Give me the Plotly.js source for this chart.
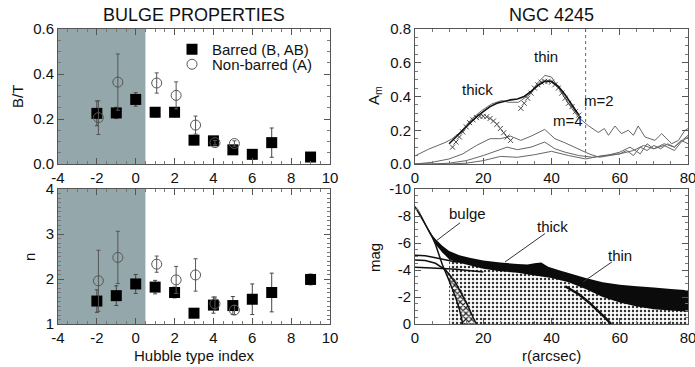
<!DOCTYPE html>
<html><head><meta charset="utf-8">
<script src="https://cdn.plot.ly/plotly-3.0.1.min.js"></script>
<style>html,body{margin:0;padding:0;background:#fff}#chart{width:695px;height:367px}</style>
</head><body><div id="chart"></div>
<script>
// ---------- Left panels: bulge properties vs Hubble type ----------
const SHADE_X = [-4, 0.5];
const BT_bar_x   = [-2, -1, 0, 1, 2, 3, 4, 5, 6, 7, 9];
const BT_bar_y   = [0.225, 0.227, 0.287, 0.23, 0.23, 0.106, 0.103, 0.063, 0.043, 0.095, 0.031];
const BT_bar_err = [0.055, 0.025, 0.03, 0.02, 0.02, 0.02, 0.015, 0.01, 0.02, 0.065, 0.02];
const BT_non_x   = [-1.92, -0.92, 1.08, 2.08, 3.08, 4.08, 5.08];
const BT_non_y   = [0.206, 0.364, 0.36, 0.305, 0.173, 0.095, 0.091];
const BT_non_err = [0.075, 0.125, 0.045, 0.06, 0.04, 0.01, 0.012];

const N_bar_x   = [-2, -1, 0, 1, 2, 3, 4, 5, 6, 7, 9];
const N_bar_y   = [1.51, 1.63, 1.89, 1.82, 1.70, 1.24, 1.42, 1.41, 1.55, 1.70, 1.99];
const N_bar_err = [0.25, 0.22, 0.21, 0.15, 0.12, 0.06, 0.18, 0.2, 0.34, 0.43, 0.12];
const N_non_x   = [-1.92, -0.92, 1.08, 2.08, 3.08, 4.08, 5.08];
const N_non_y   = [1.96, 2.48, 2.33, 1.98, 2.09, 1.45, 1.31];
const N_non_err = [0.68, 0.58, 0.18, 0.3, 0.36, 0.15, 0.1];

const HUB_ticks = [-4, -2, 0, 2, 4, 6, 8, 10];
const HUB_text  = ["-4", "-2", "0", "2", "4", "6", "8", "10"];

// ---------- Top right: A_m vs r ----------
const M2_r = [0, 4, 8.8, 10.7, 13.2, 16.6, 19.5, 22.5, 25.4, 27.3, 30.3, 33.2, 36.1, 38.1, 40, 42, 45, 47.9, 50.8, 53.7, 55.5, 56.7, 58.6, 60.5, 62.5, 64, 65.4, 67.4, 70.3, 72.3, 75.2, 77.2, 79.1, 80];
const M2_A = [0.048, 0.088, 0.127, 0.147, 0.187, 0.267, 0.316, 0.356, 0.376, 0.366, 0.366, 0.406, 0.485, 0.525, 0.515, 0.455, 0.356, 0.276, 0.227, 0.187, 0.21, 0.17, 0.225, 0.18, 0.2, 0.17, 0.225, 0.16, 0.14, 0.18, 0.12, 0.14, 0.2, 0.21];
const MOD_r = [10, 12, 14, 16, 18, 20, 22, 24, 26, 28, 30, 32, 34, 36, 38, 40, 42, 44, 46, 48];
const MOD_A = [0.12, 0.16, 0.2, 0.24, 0.28, 0.31, 0.34, 0.36, 0.37, 0.38, 0.385, 0.4, 0.43, 0.465, 0.49, 0.49, 0.46, 0.41, 0.35, 0.29];
const THK_r = [11, 12, 13, 14, 15, 16, 17, 18, 19, 20, 21, 22, 23, 24, 25, 26, 27, 28];
const THK_A = [0.1, 0.13, 0.16, 0.19, 0.22, 0.245, 0.262, 0.275, 0.282, 0.283, 0.28, 0.27, 0.255, 0.235, 0.21, 0.185, 0.16, 0.14];
const THN_r = [31, 32, 33, 34, 35, 36, 37, 38, 39, 40, 41, 42, 43, 44, 45, 46, 47, 48];
const THN_A = [0.33, 0.36, 0.39, 0.42, 0.45, 0.47, 0.485, 0.49, 0.49, 0.485, 0.47, 0.45, 0.42, 0.39, 0.36, 0.34, 0.31, 0.29];
const M4a_r = [0, 5, 10, 14, 18, 22, 25, 28, 31, 34, 38, 41, 44, 48, 51, 54, 57, 60, 62, 64, 66, 68, 70, 72, 74, 76, 78, 80];
const M4a_A = [0.0, 0.01, 0.03, 0.06, 0.11, 0.15, 0.15, 0.165, 0.14, 0.165, 0.205, 0.15, 0.125, 0.09, 0.06, 0.04, 0.05, 0.06, 0.08, 0.05, 0.1, 0.08, 0.11, 0.09, 0.12, 0.1, 0.14, 0.12];
const M4b_r = [0, 5, 10, 15, 20, 24, 27, 30, 34, 38, 41, 44, 48, 52, 56, 60, 63, 66, 68, 70, 73, 76, 78, 80];
const M4b_A = [0, 0, 0.005, 0.02, 0.05, 0.08, 0.1, 0.085, 0.1, 0.13, 0.09, 0.07, 0.05, 0.04, 0.05, 0.07, 0.1, 0.06, 0.12, 0.09, 0.11, 0.08, 0.13, 0.16];
const M4c_r = [0, 10, 15, 20, 25, 30, 35, 40, 45, 50, 55, 60, 64, 67, 70, 73, 76, 80];
const M4c_A = [0, 0, 0.005, 0.02, 0.045, 0.04, 0.055, 0.075, 0.05, 0.03, 0.05, 0.06, 0.08, 0.11, 0.09, 0.12, 0.1, 0.17];
const CORO_R = 50;

// ---------- Bottom right: mag vs r ----------
const BUL_r = [0, 2, 4, 5, 6, 8, 10, 11, 12, 13, 14];
const BUL_m = [-8.7, -7.8, -7.0, -6.5, -5.9, -4.4, -3.2, -2.6, -1.9, -1.1, 0];
const TDA_r = [0, 3, 6, 9, 12];
const TDA_m = [-5.1, -5.05, -4.9, -4.75, -4.6];
const TDB_r = [0, 3, 6, 9, 12, 15, 17, 18];
const TDB_m = [-4.75, -4.7, -4.5, -4.0, -3.0, -1.6, -0.5, 0];
const THL_r = [0, 4, 8, 12, 16, 20];
const THL_m = [-4.2, -4.18, -4.12, -4.05, -3.95, -3.85];
const BAND_up_r = [0.5, 2, 3, 4, 5, 6, 8, 10, 13, 16, 20, 25, 30, 33, 35, 37, 39, 42, 46, 50, 55, 60, 65, 70, 75, 80];
const BAND_up_m = [-8.7, -8.0, -7.5, -7.0, -6.6, -6.3, -5.8, -5.4, -5.1, -4.9, -4.7, -4.55, -4.45, -4.4, -4.5, -4.55, -4.25, -4.0, -3.7, -3.4, -3.1, -2.9, -2.8, -2.7, -2.6, -2.5];
const BAND_lo_r = [80, 75, 70, 65, 60, 55, 50, 45, 40, 35, 30, 25, 20, 15, 12, 10, 8, 6, 4, 2];
const BAND_lo_m = [-0.9, -1.0, -1.1, -1.3, -1.6, -2.0, -2.6, -3.1, -3.4, -3.6, -3.8, -3.9, -4.1, -4.4, -4.6, -4.8, -5.3, -5.9, -6.8, -7.8];
const DOT_r = [10, 14, 18, 22, 26, 30, 34, 38, 42, 46, 50, 55, 60, 65, 70, 75, 80];
const DOT_m = [-4.9, -4.6, -4.3, -4.15, -4.0, -3.9, -3.75, -3.55, -3.35, -3.0, -2.7, -2.1, -1.7, -1.4, -1.2, -1.1, -1.0];
const THE_r = [44, 48, 51, 54, 56, 57.5];
const THE_m = [-2.8, -2.2, -1.6, -0.9, -0.4, 0];
const BH_r = [8, 10, 12, 13, 14, 17.7, 16, 14, 12, 10, 8];
const BH_m = [-4.4, -3.2, -1.9, -1.1, 0, 0, -1.2, -2.3, -3.2, -3.8, -4.2];
const MAG_ticks = [-10, -8, -6, -4, -2, 0];
const MAG_text = ["-10", "-8", "-6", "-4", "-2", "0"];

// labels in the right panels
const TR_lab = {text: ["thick", "thin", "m=2", "m=4"], r: [18.3, 38.5, 53.8, 44.8], A: [0.44, 0.635, 0.375, 0.26]};
const BR_lab = {text: ["bulge", "thick", "thin"], r: [15.5, 40.3, 60.0], m: [-8.2, -7.2, -5.1]};
const BR_ptr = {r0: [13.2, 38.1, 57.7], m0: [-7.5, -6.7, -4.6], r1: [5.9, 26.4, 49.2], m1: [-6.1, -4.6, -3.1]};

const FONT = "Liberation Sans, Arial, sans-serif";
const LC = '#555';

function ax(extra) {
  return Object.assign({
    showline: true, mirror: 'allticks', linecolor: LC, linewidth: 1,
    ticks: 'inside', ticklen: 6, tickwidth: 1, tickcolor: LC,
    showgrid: false, zeroline: false, fixedrange: true, ticklabeloverflow: 'allow',
    tickfont: {family: FONT, size: 15, color: '#111'}
  }, extra);
}
function minor(d) { return {ticks: 'inside', ticklen: 3, tickcolor: '#777', dtick: d, showgrid: false}; }

const xL = [58/695, 330/695], xR = [415/695, 688/695];
const yT = [1 - 164/367, 1 - 29/367], yB = [1 - 324/367, 1 - 189/367];

const errStyle = (arr, c) => ({type: 'data', array: arr, visible: true, color: c, thickness: 1, width: 2});

const traces = [
  {x: BT_bar_x, y: BT_bar_y, xaxis: 'x', yaxis: 'y', mode: 'markers', name: 'Barred (B, AB)', legend: 'legend',
   marker: {symbol: 'square', size: 11, color: '#000'}, error_y: errStyle(BT_bar_err, '#444')},
  {x: BT_non_x, y: BT_non_y, xaxis: 'x', yaxis: 'y', mode: 'markers', name: 'Non-barred (A)', legend: 'legend2',
   marker: {symbol: 'circle-open', size: 10, color: '#555', line: {width: 1}}, error_y: errStyle(BT_non_err, '#555')},
  {x: N_bar_x, y: N_bar_y, xaxis: 'x2', yaxis: 'y2', mode: 'markers', showlegend: false,
   marker: {symbol: 'square', size: 11, color: '#000'}, error_y: errStyle(N_bar_err, '#444')},
  {x: N_non_x, y: N_non_y, xaxis: 'x2', yaxis: 'y2', mode: 'markers', showlegend: false,
   marker: {symbol: 'circle-open', size: 10, color: '#555', line: {width: 1}}, error_y: errStyle(N_non_err, '#555')},

  // top right
  {x: M4c_r, y: M4c_A, xaxis: 'x3', yaxis: 'y3', mode: 'lines', showlegend: false, line: {color: '#666', width: 1}},
  {x: M4b_r, y: M4b_A, xaxis: 'x3', yaxis: 'y3', mode: 'lines', showlegend: false, line: {color: '#666', width: 1}},
  {x: M4a_r, y: M4a_A, xaxis: 'x3', yaxis: 'y3', mode: 'lines', showlegend: false, line: {color: '#666', width: 1}},
  {x: M2_r, y: M2_A, xaxis: 'x3', yaxis: 'y3', mode: 'lines', showlegend: false, line: {color: '#666', width: 1}},
  {x: THK_r, y: THK_A, xaxis: 'x3', yaxis: 'y3', mode: 'markers', showlegend: false,
   marker: {symbol: 'x-thin-open', size: 5, color: '#444', line: {width: 1, color: '#444'}}},
  {x: THN_r, y: THN_A, xaxis: 'x3', yaxis: 'y3', mode: 'markers', showlegend: false,
   marker: {symbol: 'x-thin-open', size: 5, color: '#444', line: {width: 1, color: '#444'}}},
  {x: MOD_r, y: MOD_A, xaxis: 'x3', yaxis: 'y3', mode: 'lines', showlegend: false, line: {color: '#111', width: 1.6}},

  // bottom right
  {x: DOT_r.concat([80, 10]), y: DOT_m.concat([0, 0]), xaxis: 'x4', yaxis: 'y4', mode: 'none', fill: 'toself', showlegend: false,
   fillcolor: 'rgba(0,0,0,0)', fillpattern: {shape: '.', size: 4, solidity: 0.3, fgcolor: '#333', bgcolor: '#fff'}},
  {x: BH_r, y: BH_m, xaxis: 'x4', yaxis: 'y4', mode: 'none', fill: 'toself', showlegend: false,
   fillcolor: 'rgba(0,0,0,0)', fillpattern: {shape: 'x', size: 4, solidity: 0.5, fgcolor: '#222', bgcolor: '#fff'}},
  {x: BAND_up_r.concat(BAND_lo_r), y: BAND_up_m.concat(BAND_lo_m), xaxis: 'x4', yaxis: 'y4', mode: 'none', fill: 'toself', showlegend: false,
   fillcolor: '#0b0b0b'},
  {x: THE_r, y: THE_m, xaxis: 'x4', yaxis: 'y4', mode: 'lines', showlegend: false, line: {color: '#111', width: 2.5}},
  {x: BUL_r, y: BUL_m, xaxis: 'x4', yaxis: 'y4', mode: 'lines', showlegend: false, line: {color: '#111', width: 1.5}},
  {x: TDA_r, y: TDA_m, xaxis: 'x4', yaxis: 'y4', mode: 'lines', showlegend: false, line: {color: '#111', width: 1.5}},
  {x: TDB_r, y: TDB_m, xaxis: 'x4', yaxis: 'y4', mode: 'lines', showlegend: false, line: {color: '#111', width: 1.5}},
  {x: THL_r, y: THL_m, xaxis: 'x4', yaxis: 'y4', mode: 'lines', showlegend: false, line: {color: '#111', width: 1.5}}
];

const shapes = [
  {type: 'rect', xref: 'x', yref: 'y domain', x0: SHADE_X[0], x1: SHADE_X[1], y0: 0, y1: 1, fillcolor: '#94a8ab', line: {width: 0}, layer: 'below'},
  {type: 'rect', xref: 'x2', yref: 'y2 domain', x0: SHADE_X[0], x1: SHADE_X[1], y0: 0, y1: 1, fillcolor: '#94a8ab', line: {width: 0}, layer: 'below'},
  {type: 'line', xref: 'x3', yref: 'y3 domain', x0: CORO_R, x1: CORO_R, y0: 0, y1: 1, line: {color: '#666', width: 1, dash: 'dot'}}
];
for (let i = 0; i < BR_ptr.r0.length; i++) {
  shapes.push({type: 'line', xref: 'x4', yref: 'y4', x0: BR_ptr.r0[i], y0: BR_ptr.m0[i], x1: BR_ptr.r1[i], y1: BR_ptr.m1[i], line: {color: '#333', width: 1}});
}

const txt = (size) => ({family: FONT, size: size, color: '#111'});
const pa = (text, xpx, ypx, size, angle) => ({text: text, xref: 'paper', yref: 'paper', x: xpx / 695, y: 1 - ypx / 367,
  xanchor: 'center', yanchor: 'middle', textangle: angle || 0, showarrow: false, font: txt(size)});

const annotations = [
  pa('BULGE PROPERTIES', 194, 15, 18),
  pa('NGC 4245', 551.5, 15, 18),
  pa('B/T', 17, 97, 15, -90),
  pa('n', 29, 257, 15, -90),
  pa('Hubble type index', 194, 355, 15),
  pa('A<sub>m</sub>', 375, 96, 15, -90),
  pa('mag', 374, 258, 15, -90),
  pa('r(arcsec)', 551.5, 355, 15)
];
TR_lab.text.forEach((t, i) => annotations.push({text: t, xref: 'x3', yref: 'y3', x: TR_lab.r[i], y: TR_lab.A[i], showarrow: false, font: txt(15)}));
BR_lab.text.forEach((t, i) => annotations.push({text: t, xref: 'x4', yref: 'y4', x: BR_lab.r[i], y: BR_lab.m[i], showarrow: false, font: txt(15)}));

const legendBase = {xanchor: 'left', yanchor: 'top', bgcolor: 'rgba(0,0,0,0)', borderwidth: 0, font: txt(15)};

const layout = {
  width: 695, height: 367, margin: {l: 0, r: 0, t: 0, b: 0},
  paper_bgcolor: '#fff', plot_bgcolor: '#fff',
  showlegend: true,
  legend: Object.assign({x: 172/695, y: 1 - 33/367}, legendBase),
  legend2: Object.assign({x: 172/695, y: 1 - 48/367}, legendBase),
  xaxis: ax({domain: xL, anchor: 'y', range: [-4, 10], tickvals: HUB_ticks, ticktext: HUB_text, minor: minor(0.5)}),
  yaxis: ax({domain: yT, anchor: 'x', range: [0, 0.6], dtick: 0.2, tickformat: '.1f', minor: minor(0.05)}),
  xaxis2: ax({domain: xL, anchor: 'y2', range: [-4, 10], tickvals: HUB_ticks, ticktext: HUB_text, minor: minor(0.5)}),
  yaxis2: ax({domain: yB, anchor: 'x2', range: [1, 4], dtick: 1, minor: minor(0.1)}),
  xaxis3: ax({domain: xR, anchor: 'y3', range: [0, 80], dtick: 20, minor: minor(5)}),
  yaxis3: ax({domain: yT, anchor: 'x3', range: [0, 0.8], dtick: 0.2, tickformat: '.1f', minor: minor(0.05)}),
  xaxis4: ax({domain: xR, anchor: 'y4', range: [0, 80], dtick: 20, minor: minor(5)}),
  yaxis4: ax({domain: yB, anchor: 'x4', range: [0, -10], tickvals: MAG_ticks, ticktext: MAG_text, minor: minor(0.5)}),
  shapes: shapes,
  annotations: annotations
};

Plotly.newPlot('chart', traces, layout, {displayModeBar: false, staticPlot: true});
</script></body></html>
